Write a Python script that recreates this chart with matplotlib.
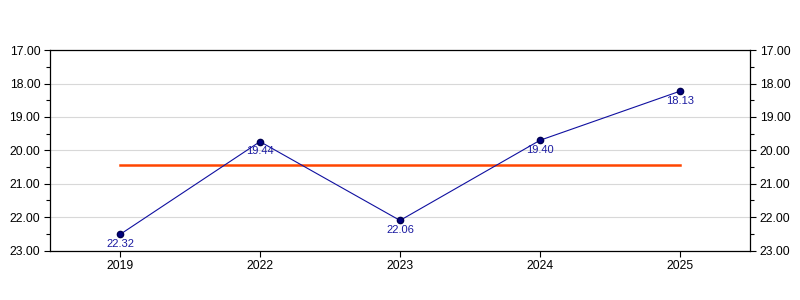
import matplotlib.pyplot as plt
from matplotlib.ticker import MultipleLocator, FormatStrFormatter

plt.rcParams['font.family'] = ['Liberation Sans', 'DejaVu Sans']

years = ['2019', '2022', '2023', '2024', '2025']
# positions as drawn in the picture, and the printed labels
values = [22.52, 19.74, 22.10, 19.70, 18.23]
labels = ['22.32', '19.44', '22.06', '19.40', '18.13']
average = 20.45

fig = plt.figure(figsize=(8, 3), dpi=100)
ax = fig.add_axes([0.0625, 0.165, 0.875, 0.668])

x = list(range(len(years)))
ax.plot([x[0], x[-1]], [average, average], color='#ff4500', lw=1.8, zorder=2)
ax.plot(x, values, color='#1010a0', lw=0.8, marker='o', markersize=4.5,
        markerfacecolor='#000080', markeredgecolor='#000050', zorder=3)
for xi, v, lab in zip(x, values, labels):
    ax.annotate(lab, (xi, v), xytext=(0, -3.5), textcoords='offset points',
                ha='center', va='top', color='#1a1aa0', fontsize=8)

ax.set_xlim(-0.5, 4.5)
ax.set_ylim(23, 17)
ax.set_xticks(x)
ax.set_xticklabels(years)
ax.yaxis.set_major_locator(MultipleLocator(1))
ax.yaxis.set_minor_locator(MultipleLocator(0.5))
ax.yaxis.set_major_formatter(FormatStrFormatter('%.2f'))
ax.tick_params(axis='both', which='major', length=4, width=0.8, labelsize=8.7,
               direction='out', pad=3)
ax.tick_params(axis='y', which='minor', length=3, width=0.8)
ax.tick_params(axis='y', which='both', right=True, labelright=True)
ax.grid(axis='y', which='major', color='#d8d8d8', lw=0.8)
ax.set_axisbelow(True)
for s in ax.spines.values():
    s.set_linewidth(0.9)

fig.savefig('out.png', dpi=100)
